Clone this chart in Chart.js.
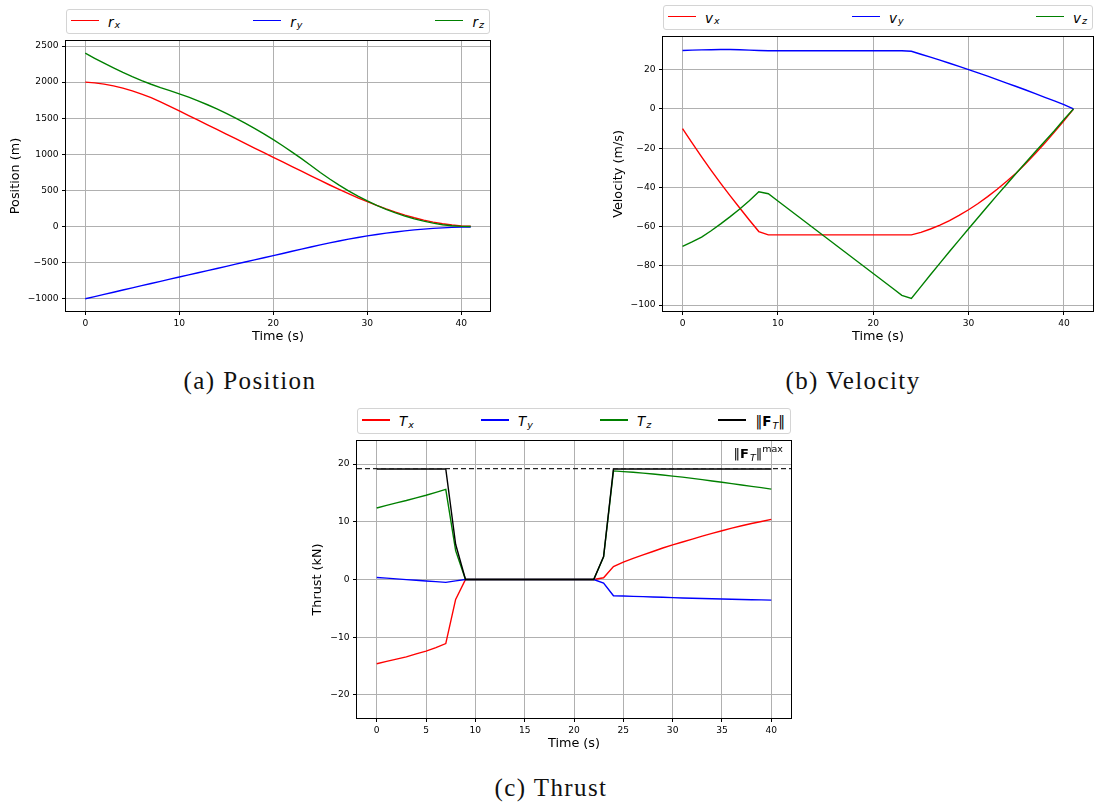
<!DOCTYPE html>
<html>
<head>
<meta charset="utf-8">
<script src="https://cdn.jsdelivr.net/npm/chart.js@4.4.0/dist/chart.umd.min.js"></script>
<style>
  body { margin: 0; width: 1096px; height: 807px; background: #fff; position: relative; overflow: hidden; font-family: "DejaVu Sans", sans-serif; }
  .plot { position: absolute; }
  .legend { position: absolute; box-sizing: border-box; border: 1px solid #d4d4d4; border-radius: 3px; display: flex; justify-content: space-between; align-items: center; padding: 0 5px 0 4px; font-size: 13.5px; background: #fff; }
  .item { display: flex; align-items: center; }
  .swatch { width: 28px; height: 1.5px; margin-right: 9px; position: relative; top: -1px; }
  .m { font-style: italic; }
  .sub { font-size: 9.5px; position: relative; top: 3px; margin-left: 1px; }
  .sup { font-size: 9.5px; position: relative; top: -6px; font-style: normal; }
  .caption { position: absolute; font-family: "Liberation Serif", serif; font-size: 25px; letter-spacing: 1.4px; transform: translate(-50%, -50%); white-space: nowrap; color: #111; }
  .note { position: absolute; font-size: 13px; white-space: nowrap; }
</style>
</head>
<body>

<div class="legend" style="left:66px; top:9px; width:424px; height:25px;">
  <div class="item"><span class="swatch" style="background:#ff0000"></span><span class="m">r</span><span class="sub m">x</span></div>
  <div class="item"><span class="swatch" style="background:#0000ff"></span><span class="m">r</span><span class="sub m">y</span></div>
  <div class="item"><span class="swatch" style="background:#008000"></span><span class="m">r</span><span class="sub m">z</span></div>
</div>
<div class="plot" style="left:0px; top:32px;"><canvas id="posChart" width="496" height="316"></canvas></div>

<div class="legend" style="left:663px; top:5px; width:430px; height:25px;">
  <div class="item"><span class="swatch" style="background:#ff0000"></span><span class="m">v</span><span class="sub m">x</span></div>
  <div class="item"><span class="swatch" style="background:#0000ff"></span><span class="m">v</span><span class="sub m">y</span></div>
  <div class="item"><span class="swatch" style="background:#008000"></span><span class="m">v</span><span class="sub m">z</span></div>
</div>
<div class="plot" style="left:600px; top:28px;"><canvas id="velChart" width="496" height="320"></canvas></div>

<div class="legend" style="left:357px; top:408px; width:434px; height:26px;">
  <div class="item"><span class="swatch" style="background:#ff0000"></span><span class="m">T</span><span class="sub m">x</span></div>
  <div class="item"><span class="swatch" style="background:#0000ff"></span><span class="m">T</span><span class="sub m">y</span></div>
  <div class="item"><span class="swatch" style="background:#008000"></span><span class="m">T</span><span class="sub m">z</span></div>
  <div class="item"><span class="swatch" style="background:#000000"></span><span>‖<b>F</b><span class="sub m">T</span>‖</span></div>
</div>
<div class="plot" style="left:300px; top:432px;"><canvas id="thrustChart" width="494" height="324"></canvas></div>
<div class="note" style="right:313px; top:446px;">‖<b>F</b><span class="sub m">T</span>‖<span class="sup">max</span></div>

<div class="caption" style="left:250px; top:381px;">(a) Position</div>
<div class="caption" style="left:853px; top:381px;">(b) Velocity</div>
<div class="caption" style="left:551px; top:788px;">(c) Thrust</div>

<script>
// time samples (s)
const time = [0,1,2,3,4,5,6,7,8,9,10,11,12,13,14,15,16,17,18,19,20,21,22,23,24,25,26,27,28,29,30,31,32,33,34,35,36,37,38,39,40,41];
const thrustTime = [0,1,2,3,4,5,6,7,8,9,10,11,12,13,14,15,16,17,18,19,20,21,22,23,24,25,26,27,28,29,30,31,32,33,34,35,36,37,38,39,40];

// position (m)
const rx = [2000,1990,1972.7,1948.3,1917,1879.1,1834.8,1784.3,1727.7,1665.2,1601,1536.8,1472.6,1408.4,1344.2,1280,1215.8,1151.6,1087.4,1023.2,959,894.8,830.6,766.4,702.2,638,575.1,513.9,454.7,397.8,343.5,292.1,243.9,199.2,158.3,121.4,88.8,61,38.3,20.9,9.1,3.1];
const ry = [-1000,-970.2,-940.2,-910.1,-879.9,-849.6,-819.3,-789.1,-759.1,-729.3,-699.6,-669.9,-640.2,-610.5,-580.8,-551.1,-521.4,-491.7,-462,-432.3,-402.6,-372.9,-343.2,-313.5,-283.8,-254.4,-226.5,-200.1,-175.3,-152,-130.3,-110.2,-91.8,-75.1,-60.2,-47,-35.5,-25.9,-18.1,-12.1,-8,-5.8];
const rz = [2400,2330,2262.2,2196.9,2134.8,2076.2,2021.3,1970.3,1923.5,1881.3,1838.1,1791.2,1740.6,1686.3,1628.3,1566.6,1501.2,1432.1,1359.3,1282.8,1202.6,1118.7,1031.1,939.8,844.8,748.2,657.7,573.1,494.5,421.8,355,293.9,238.6,189,145.1,106.7,73.9,46.6,24.8,10,2,0];

// velocity (m/s)
const vx = [-10,-17.3,-24.4,-31.3,-37.9,-44.3,-50.5,-56.6,-62.5,-64.2,-64.2,-64.2,-64.2,-64.2,-64.2,-64.2,-64.2,-64.2,-64.2,-64.2,-64.2,-64.2,-64.2,-64.2,-64.2,-62.9,-61.2,-59.2,-56.9,-54.3,-51.4,-48.2,-44.7,-40.9,-36.9,-32.6,-27.8,-22.7,-17.4,-11.8,-6,0];
const vy = [29.8,30,30.1,30.2,30.3,30.3,30.2,30,29.8,29.7,29.7,29.7,29.7,29.7,29.7,29.7,29.7,29.7,29.7,29.7,29.7,29.7,29.7,29.7,29.4,27.9,26.4,24.85,23.3,21.7,20.05,18.4,16.7,14.95,13.2,11.45,9.65,7.8,5.95,4.1,2.2,0];
const vz = [-70,-67.8,-65.3,-62.1,-58.6,-54.9,-51,-46.8,-42.2,-43.2,-46.9,-50.6,-54.3,-58,-61.7,-65.4,-69.1,-72.8,-76.5,-80.2,-83.9,-87.6,-91.3,-95,-96.6,-90.55,-84.55,-78.6,-72.7,-66.85,-61.05,-55.3,-49.6,-43.95,-38.35,-32.8,-27.3,-21.85,-16.45,-11.1,-5.4,0];

// thrust (kN)
const Tx = [-14.6,-14.2,-13.8,-13.4,-12.9,-12.4,-11.8,-11.1,-3.45,0,0,0,0,0,0,0,0,0,0,0,0,0,0,0.3,2.25,3,3.65,4.25,4.85,5.45,6,6.5,7,7.5,8,8.45,8.9,9.3,9.7,10.05,10.42];
const Ty = [0.35,0.23,0.1,-0.02,-0.14,-0.26,-0.38,-0.5,-0.25,0,0,0,0,0,0,0,0,0,0,0,0,0,0,-0.63,-2.82,-2.87,-2.92,-2.97,-3.03,-3.09,-3.15,-3.2,-3.25,-3.3,-3.34,-3.38,-3.42,-3.46,-3.5,-3.54,-3.57];
const Tz = [12.39,12.85,13.28,13.68,14.15,14.59,15.08,15.6,5,0,0,0,0,0,0,0,0,0,0,0,0,0,0,3.91,18.81,18.69,18.57,18.43,18.28,18.1,17.91,17.73,17.52,17.31,17.07,16.85,16.61,16.38,16.14,15.91,15.66];
const Tnorm = [19.15,19.15,19.15,19.15,19.15,19.15,19.15,19.15,6.1,0,0,0,0,0,0,0,0,0,0,0,0,0,0,3.97,19.15,19.15,19.15,19.15,19.15,19.15,19.15,19.15,19.15,19.15,19.15,19.15,19.15,19.15,19.15,19.15,19.15];
const thrustMax = 19.2;

// axis limits and ticks
const posXRange = [-2.05, 43.05];
const posYRange = [-1170, 2570];
const posXTicks = [0, 10, 20, 30, 40];
const posYTicks = [-1000, -500, 0, 500, 1000, 1500, 2000, 2500];
const velXRange = [-2.05, 43.05];
const velYRange = [-103, 36.7];
const velXTicks = [0, 10, 20, 30, 40];
const velYTicks = [-100, -80, -60, -40, -20, 0, 20];
const thrXRange = [-2, 42];
const thrYRange = [-24, 24];
const thrXTicks = [0, 5, 10, 15, 20, 25, 30, 35, 40];
const thrYTicks = [-20, -10, 0, 10, 20];

function pts(xs, ys) {
    return xs.map((t, i) => ({x: t, y: ys[i]}));
}

function fmt(v) {
    return v < 0 ? '\u2212' + Math.abs(v) : String(v);
}

// draws the black box round the plot area
const frame = {
    id: 'frame',
    afterDatasetsDraw(chart) {
        const a = chart.chartArea;
        const ctx = chart.ctx;
        ctx.save();
        ctx.strokeStyle = '#000';
        ctx.lineWidth = 1;
        ctx.strokeRect(Math.round(a.left) - 0.5, Math.round(a.top) - 0.5,
            Math.round(a.right - a.left) + 1, Math.round(a.bottom - a.top) + 1);
        ctx.restore();
    }
};

function line(data, color, extra) {
    return Object.assign({
        data: data,
        borderColor: color,
        borderWidth: 1.4,
        pointRadius: 0,
        tension: 0,
        fill: false
    }, extra || {});
}

function makeChart(id, datasets, cfg) {
    const tickFont = {family: 'DejaVu Sans', size: 9.1};
    const titleFont = {family: 'DejaVu Sans', size: 12.8};
    return new Chart(document.getElementById(id).getContext('2d'), {
        type: 'line',
        data: {datasets: datasets},
        plugins: [frame],
        options: {
            responsive: false,
            animation: false,
            events: [],
            layout: {padding: {top: 8, right: cfg.padRight, left: 0, bottom: 0}},
            plugins: {legend: {display: false}, tooltip: {enabled: false}},
            scales: {
                x: {
                    type: 'linear',
                    bounds: 'data',
                    min: cfg.xRange[0],
                    max: cfg.xRange[1],
                    afterBuildTicks: (s) => { s.ticks = cfg.xTicks.map(v => ({value: v})); },
                    afterFit: (s) => { s.height = cfg.xHeight; },
                    grid: {color: '#b0b0b0', lineWidth: 1, tickColor: '#000', tickLength: 4},
                    border: {display: false},
                    ticks: {font: tickFont, color: '#000', padding: 3, autoSkip: false, maxRotation: 0, callback: fmt},
                    title: {display: true, text: 'Time (s)', font: titleFont, color: '#000', padding: {top: 0, bottom: cfg.xTitlePad}}
                },
                y: {
                    type: 'linear',
                    bounds: 'data',
                    min: cfg.yRange[0],
                    max: cfg.yRange[1],
                    afterBuildTicks: (s) => { s.ticks = cfg.yTicks.map(v => ({value: v})); },
                    afterFit: (s) => { s.width = cfg.yWidth; },
                    grid: {color: '#b0b0b0', lineWidth: 1, tickColor: '#000', tickLength: 4},
                    border: {display: false},
                    ticks: {font: tickFont, color: '#000', padding: 3.5, autoSkip: false, callback: fmt},
                    title: {display: true, text: cfg.yTitle, font: titleFont, color: '#000', padding: {top: cfg.yTitlePad, bottom: 0}}
                }
            }
        }
    });
}

// position chart (later datasets drawn first so r_z ends on top)
makeChart('posChart', [
    line(pts(time, rz), '#008000'),
    line(pts(time, ry), '#0000ff'),
    line(pts(time, rx), '#ff0000')
], {xRange: posXRange, yRange: posYRange, xTicks: posXTicks, yTicks: posYTicks,
    yTitle: 'Position (m)', padRight: 6, yWidth: 66, xHeight: 37, xTitlePad: 3.6, yTitlePad: 8});

// velocity chart
makeChart('velChart', [
    line(pts(time, vz), '#008000'),
    line(pts(time, vy), '#0000ff'),
    line(pts(time, vx), '#ff0000')
], {xRange: velXRange, yRange: velYRange, xTicks: velXTicks, yTicks: velYTicks,
    yTitle: 'Velocity (m/s)', padRight: 3, yWidth: 63, xHeight: 37, xTitlePad: 3.6, yTitlePad: 11.3});

// thrust chart, dashed limit on top
makeChart('thrustChart', [
    line(pts(thrXRange, [thrustMax, thrustMax]), '#222', {borderDash: [5, 3], borderWidth: 1.4}),
    line(pts(thrustTime, Tnorm), '#000000'),
    line(pts(thrustTime, Tz), '#008000'),
    line(pts(thrustTime, Ty), '#0000ff'),
    line(pts(thrustTime, Tx), '#ff0000')
], {xRange: thrXRange, yRange: thrYRange, xTicks: thrXTicks, yTicks: thrYTicks,
    yTitle: 'Thrust (kN)', padRight: 3, yWidth: 57, xHeight: 38, xTitlePad: 4.3, yTitlePad: 9.6});
</script>
</body>
</html>
